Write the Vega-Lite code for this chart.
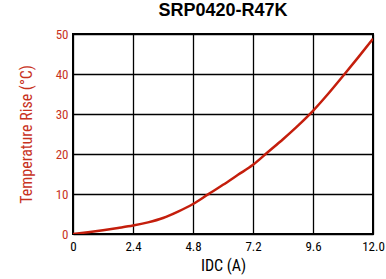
{
  "$schema": "https://vega.github.io/schema/vega-lite/v6.json",
  "width": 300,
  "height": 200,
  "autosize": {"type": "none"},
  "padding": {"left": 73, "top": 34, "right": 13, "bottom": 45},
  "background": "white",
  "title": {"text": "SRP0420-R47K", "font": "Liberation Sans", "fontSize": 18, "fontWeight": "bold", "color": "#000000", "offset": 8, "anchor": "middle"},
  "config": {
    "view": {"stroke": "#000000", "strokeWidth": 2},
    "axis": {"labelFont": "Roboto Condensed, DejaVu Sans Condensed, Roboto, sans-serif", "titleFont": "Roboto Condensed, DejaVu Sans Condensed, Roboto, sans-serif", "labelFontSize": 13, "titleFontSize": 16, "titleFontWeight": "normal", "grid": true, "gridColor": "#000000", "gridWidth": 1.3, "gridOpacity": 1, "domain": false, "ticks": false}
  },
  "data": {"values": [
    {"x": 0, "y": 0}, {"x": 0.6, "y": 0.45}, {"x": 1.2, "y": 0.95}, {"x": 1.8, "y": 1.5},
    {"x": 2.4, "y": 2.1}, {"x": 3.0, "y": 2.9}, {"x": 3.6, "y": 4.0}, {"x": 4.2, "y": 5.6},
    {"x": 4.8, "y": 7.5}, {"x": 5.4, "y": 9.9}, {"x": 6.0, "y": 12.3}, {"x": 6.6, "y": 14.8},
    {"x": 7.2, "y": 17.3}, {"x": 7.8, "y": 20.5}, {"x": 8.4, "y": 23.7}, {"x": 9.0, "y": 27.1},
    {"x": 9.6, "y": 30.8}, {"x": 10.2, "y": 35.0}, {"x": 10.8, "y": 39.5}, {"x": 11.4, "y": 44.1},
    {"x": 12.0, "y": 48.8}
  ]},
  "mark": {"type": "line", "color": "#c41e0c", "strokeWidth": 2.5, "interpolate": "monotone", "clip": true},
  "encoding": {
    "x": {"field": "x", "type": "quantitative", "scale": {"domain": [0, 12], "nice": false},
      "axis": {"values": [0, 2.4, 4.8, 7.2, 9.6, 12], "labelExpr": "datum.value == 0 ? '0' : format(datum.value, '.1f')", "title": "IDC (A)", "labelColor": "#000000", "titleColor": "#000000", "labelPadding": 6, "titlePadding": 4, "labelFlush": false}},
    "y": {"field": "y", "type": "quantitative", "scale": {"domain": [0, 50], "nice": false},
      "axis": {"values": [0, 10, 20, 30, 40, 50], "title": "Temperature Rise (°C)", "labelColor": "#c8321e", "titleColor": "#c8321e", "labelPadding": 5, "titlePadding": 21}}
  }
}
